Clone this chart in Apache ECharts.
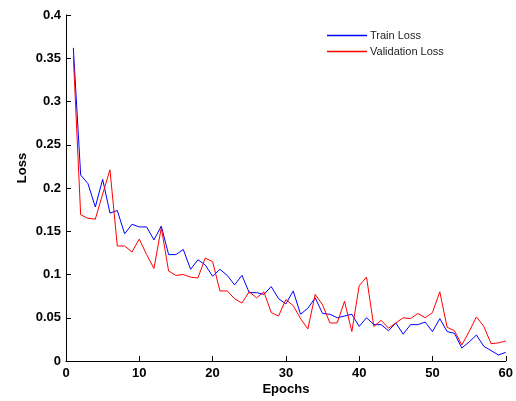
<!DOCTYPE html>
<html>
<head>
<meta charset="utf-8">
<script src="https://cdn.jsdelivr.net/npm/echarts@6/dist/echarts.min.js"></script>
<style>html,body{margin:0;padding:0;background:#fff}#c{width:516px;height:401px}</style>
</head>
<body>
<div id="c"></div>
<script>
var epochs = [];
for (var i = 1; i <= 60; i++) epochs.push(i);

var trainLoss = [0.362,0.215,0.205,0.178,0.210,0.171,0.174,0.147,0.158,0.155,
                 0.155,0.140,0.156,0.123,0.123,0.129,0.106,0.117,0.111,0.098,
                 0.106,0.099,0.088,0.099,0.079,0.079,0.077,0.086,0.072,0.066,
                 0.081,0.054,0.061,0.073,0.055,0.054,0.050,0.052,0.054,0.040,
                 0.050,0.042,0.042,0.035,0.044,0.031,0.042,0.042,0.045,0.034,
                 0.049,0.034,0.032,0.015,0.022,0.030,0.017,0.012,0.007,0.010];

var valLoss = [0.352,0.169,0.165,0.164,0.193,0.221,0.133,0.133,0.126,0.141,
               0.123,0.107,0.154,0.104,0.099,0.100,0.097,0.096,0.119,0.115,
               0.081,0.081,0.072,0.067,0.080,0.073,0.080,0.056,0.052,0.071,
               0.064,0.049,0.037,0.077,0.065,0.044,0.044,0.069,0.034,0.087,
               0.097,0.040,0.047,0.038,0.044,0.050,0.049,0.055,0.050,0.056,
               0.080,0.039,0.035,0.0185,0.034,0.051,0.040,0.020,0.021,0.023];

var seriesNames = ['Train Loss', 'Validation Loss'];

function pairs(vals) {
  return epochs.map(function (e, i) { return [e, vals[i]]; });
}

var chart = echarts.init(document.getElementById('c'), null, {renderer: 'canvas'});
var axisFont = {color: '#000', fontFamily: 'Liberation Sans, Arial, sans-serif', fontWeight: 'bold', fontSize: 13};
chart.setOption({
  animation: false,
  backgroundColor: '#fff',
  grid: {left: 66, right: 10, top: 15, bottom: 40, containLabel: false},
  legend: {
    orient: 'vertical',
    left: 322,
    top: 25,
    itemWidth: 40,
    itemHeight: 1.5,
    itemGap: 5,
    icon: 'rect',
    data: seriesNames,
    textStyle: {color: '#222', fontFamily: 'Liberation Sans, Arial, sans-serif', fontSize: 11, padding: [0, 0, 0, -2]}
  },
  xAxis: {
    type: 'value', min: 0, max: 60, interval: 10,
    name: 'Epochs', nameLocation: 'middle', nameGap: 22, nameMoveOverlap: false,
    nameTextStyle: axisFont,
    axisLine: {show: true, lineStyle: {color: '#000', width: 1}},
    axisTick: {show: true, inside: true, length: 5, lineStyle: {color: '#000'}},
    axisLabel: Object.assign({margin: 6}, axisFont),
    splitLine: {show: false}
  },
  yAxis: {
    type: 'value', min: 0, max: 0.4, interval: 0.05,
    name: 'Loss', nameLocation: 'middle', nameGap: 37, nameMoveOverlap: false,
    nameTextStyle: Object.assign({padding: [0, 0, 0, 40]}, axisFont),
    axisLine: {show: true, lineStyle: {color: '#000', width: 1}},
    axisTick: {show: true, inside: true, length: 5, lineStyle: {color: '#000'}},
    axisLabel: Object.assign({margin: 5}, axisFont),
    splitLine: {show: false}
  },
  series: [
    {name: seriesNames[0], type: 'line', data: pairs(trainLoss), showSymbol: false, symbol: 'none',
     lineStyle: {color: '#0000ff', width: 1}, itemStyle: {color: '#0000ff'}},
    {name: seriesNames[1], type: 'line', data: pairs(valLoss), showSymbol: false, symbol: 'none',
     lineStyle: {color: '#ff0000', width: 1}, itemStyle: {color: '#ff0000'}}
  ]
});
</script>
</body>
</html>
